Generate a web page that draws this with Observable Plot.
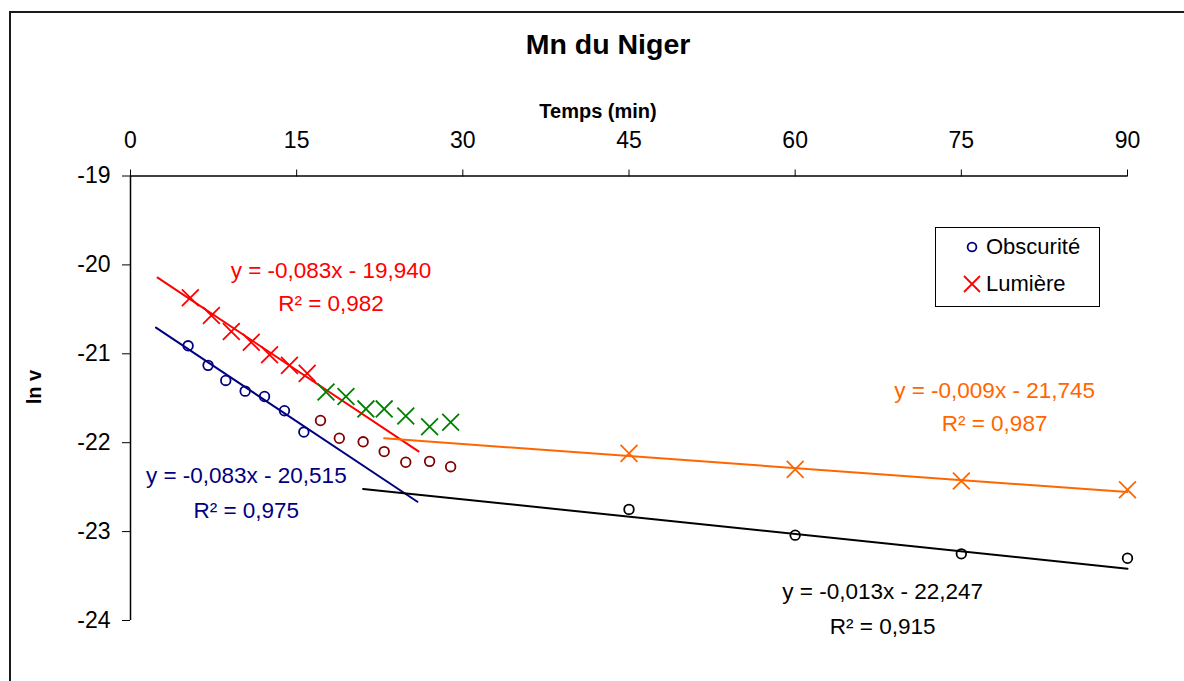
<!DOCTYPE html>
<html>
<head>
<meta charset="utf-8">
<script src="https://cdn.jsdelivr.net/npm/d3@7"></script>
<script src="https://cdn.jsdelivr.net/npm/@observablehq/plot@0.6"></script>
<style>
  html, body { margin: 0; padding: 0; background: #fff; overflow: hidden; }
  #wrap { position: relative; width: 1184px; height: 681px; font-family: "Liberation Sans", Arial, sans-serif; }
  #wrap > svg { position: absolute; left: 0; top: 0; }
  #frame { position: absolute; left: 9px; top: 11px; width: 1300px; height: 800px; border: 2px solid #1a1a1a; pointer-events: none; }
  #legend { position: absolute; left: 935px; top: 227px; width: 165px; height: 80px; border: 1px solid #000; background: #fff; box-sizing: border-box; }
  #legend .item { position: absolute; left: 0; height: 26px; display: flex; align-items: center; font-size: 22px; color: #000; }
  #legend .item svg { margin-left: 26px; margin-right: 4px; }
</style>
</head>
<body>
<div id="wrap">
  <div id="frame"></div>
</div>
<script>
// Mn du Niger — ln v versus time, in darkness (Obscurité) and in light (Lumière)

const xTicks = [0, 15, 30, 45, 60, 75, 90];
const yTicks = [-19, -20, -21, -22, -23, -24];

// Obscurité: first phase (fitted), middle phase, last phase (fitted)
const darkTimes1 = [5.2, 7.0, 8.6, 10.35, 12.1, 13.9, 15.65];
const darkLnV1   = [-20.91, -21.13, -21.30, -21.42, -21.48, -21.64, -21.88];
const darkTimes2 = [17.15, 18.85, 21.0, 22.9, 24.85, 27.0, 28.9];
const darkLnV2   = [-21.75, -21.95, -21.99, -22.10, -22.22, -22.21, -22.27];
const darkTimes3 = [45, 60, 75, 90];
const darkLnV3   = [-22.75, -23.04, -23.25, -23.30];

// Lumière: first phase (fitted), middle phase, last phase (fitted)
const lightTimes1 = [5.4, 7.3, 9.1, 10.9, 12.55, 14.35, 15.95];
const lightLnV1   = [-20.37, -20.57, -20.75, -20.87, -21.01, -21.13, -21.22];
const lightTimes2 = [17.65, 19.45, 21.25, 22.9, 24.85, 27.0, 28.9];
const lightLnV2   = [-21.43, -21.48, -21.62, -21.62, -21.70, -21.82, -21.77];
const lightTimes3 = [45, 60, 75, 90];
const lightLnV3   = [-22.12, -22.30, -22.43, -22.53];

// Linear trends: y = slope * x + intercept, drawn from trendFrom to trendTo
const trendSlopes     = [-0.083, -0.083, -0.009, -0.013];
const trendIntercepts = [-19.940, -20.515, -21.745, -22.247];
const trendR2         = [0.982, 0.975, 0.987, 0.915];
const trendFrom       = [2.45, 2.3, 22.9, 21.0];
const trendTo         = [26.0, 25.9, 90, 90];

// Presentation
const trendColors = ["#ff0000", "#000080", "#ff6600", "#000000"];
const labelX   = [18.1, 10.45, 78.0, 67.9];
const labelY   = [-20.063, -22.369, -21.413, -23.682];
const labelR2Y = [-20.434, -22.763, -21.784, -24.075];

const NAVY = "#000080", DARKRED = "#800000", RED = "#ff0000", GREEN = "#008000", ORANGE = "#ff6600";

const pts = (xs, ys) => xs.map((x, i) => ({x, y: ys[i]}));
const frNum = (v, d) => (v < 0 ? "-" : "") + Math.abs(v).toFixed(d).replace(".", ",");

const trendLines = trendSlopes.map((m, i) => [trendFrom[i], trendTo[i]].map(x => ({x, y: m * x + trendIntercepts[i]})));
const eqLabels = trendSlopes.map((m, i) => ({
  x: labelX[i], y: labelY[i], color: trendColors[i],
  text: `y = ${frNum(m, 3)}x ${trendIntercepts[i] < 0 ? "-" : "+"} ${frNum(Math.abs(trendIntercepts[i]), 3)}`
}));
const r2Labels = trendR2.map((r, i) => ({
  x: labelX[i], y: labelR2Y[i], color: trendColors[i], text: `R² = ${frNum(r, 3)}`
}));

const circle = (data, stroke) => Plot.dot(data, {x: "x", y: "y", symbol: "circle", r: 4.8, stroke, fill: "none", strokeWidth: 1.8});
const cross = (data, stroke) => Plot.dot(data, {x: "x", y: "y", symbol: "times", r: 7.7, stroke, strokeWidth: 1.8});

const chart = Plot.plot({
  width: 1184,
  height: 681,
  marginLeft: 130,
  marginRight: 57,
  marginTop: 175.5,
  marginBottom: 61,
  style: {fontFamily: '"Liberation Sans", Arial, sans-serif', fontSize: "23px", background: "transparent", color: "#000", overflow: "visible"},
  x: {domain: [0, 90]},
  y: {domain: [-24, -19]},
  color: {type: "identity"},
  marks: [
    Plot.ruleY([-19], {stroke: "#000", strokeWidth: 1.5}),
    Plot.ruleX([0], {stroke: "#000", strokeWidth: 1.5}),
    Plot.axisX({anchor: "top", ticks: xTicks, tickSize: 7, tickPadding: 21, label: null, tickFormat: d => String(d)}),
    Plot.axisY({anchor: "left", ticks: yTicks, tickSize: 8, tickPadding: 12, label: null, tickFormat: d => String(d)}),
    ...trendLines.map((line, i) => Plot.line(line, {x: "x", y: "y", stroke: trendColors[i], strokeWidth: 2})),
    circle(pts(darkTimes1, darkLnV1), NAVY),
    circle(pts(darkTimes2, darkLnV2), DARKRED),
    circle(pts(darkTimes3, darkLnV3), "#000"),
    cross(pts(lightTimes1, lightLnV1), RED),
    cross(pts(lightTimes2, lightLnV2), GREEN),
    cross(pts(lightTimes3, lightLnV3), ORANGE),
    Plot.text(eqLabels, {x: "x", y: "y", text: "text", fill: "color", fontSize: 22.5}),
    Plot.text(r2Labels, {x: "x", y: "y", text: "text", fill: "color", fontSize: 22.5}),
    Plot.text(["Mn du Niger"], {frameAnchor: "top", dx: -21, dy: -142.5, fontSize: 28.5, fontWeight: "bold"}),
    Plot.text(["Temps (min)"], {frameAnchor: "top", dx: -31, dy: -72.5, fontSize: 20, fontWeight: "bold"}),
    Plot.text(["ln v"], {frameAnchor: "left", dx: -96, dy: 6, rotate: -90, fontSize: 20, fontWeight: "bold"})
  ]
});

const wrap = document.getElementById("wrap");
wrap.insertBefore(chart, wrap.firstChild);

// Legend
const legend = document.createElement("div");
legend.id = "legend";
legend.innerHTML = `
  <div class="item" style="top:6px"><svg width="20" height="20" viewBox="-10 -10 20 20"><circle r="4.4" fill="none" stroke="${NAVY}" stroke-width="1.8"/></svg><span>Obscurité</span></div>
  <div class="item" style="top:43px"><svg width="20" height="20" viewBox="-10 -10 20 20"><path d="M-8,-8L8,8M-8,8L8,-8" stroke="${RED}" stroke-width="1.8"/></svg><span>Lumière</span></div>`;
wrap.appendChild(legend);
</script>
</body>
</html>
